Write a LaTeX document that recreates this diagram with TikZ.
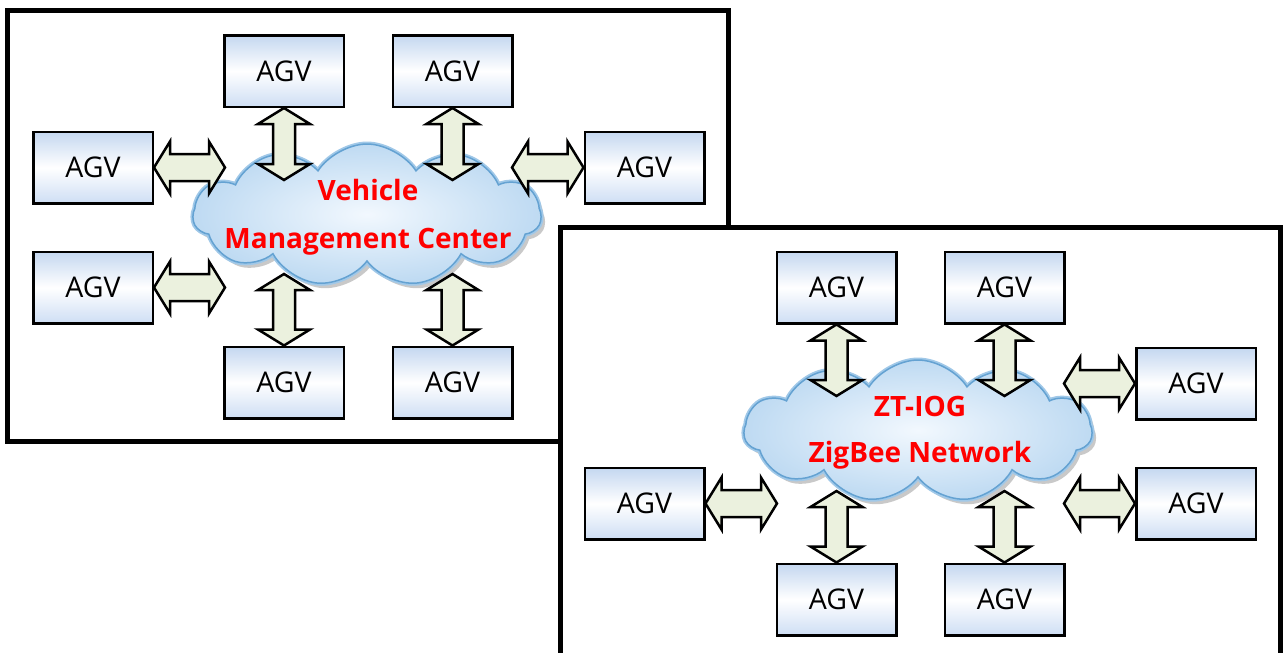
\documentclass[tikz,border=0pt]{standalone}
\usepackage{fontspec}
\setmainfont{Open Sans}
\usetikzlibrary{shapes.symbols,shadows,calc}
\definecolor{arrowgreen}{RGB}{235,241,222}
\definecolor{agvtop}{RGB}{196,215,240}
\definecolor{agvbot}{RGB}{206,222,244}
\definecolor{cloudin}{RGB}{242,248,254}
\definecolor{cloudout}{RGB}{190,218,242}
\definecolor{cloudedge}{RGB}{100,162,210}
\definecolor{cloudglow}{RGB}{160,200,232}
\newcommand\ahl{16pt}
\newcommand\ahw{26pt}
\newcommand\shafthw{11pt}
\tikzset{
  frame/.style={draw=black, line width=5pt, fill=white},
  agv/.style={rectangle, draw=black, line width=2.5pt, minimum width=119.5pt, minimum height=71.5pt,
    top color=agvtop, bottom color=agvbot, middle color=white, inner sep=0pt,
    font=\fontsize{28.5}{32}\selectfont},
  cloudshape/.style={cloud, cloud puffs=11, cloud puff arc=115, aspect=2.4, inner sep=0pt,
    minimum width=348pt, minimum height=142pt, draw=cloudedge, line width=1.5pt,
    inner color=cloudin, outer color=cloudout,
    drop shadow={shadow xshift=4pt, shadow yshift=-5pt, opacity=0.35, fill=black!60},
    preaction={draw=cloudglow, line width=5pt}},
  cloudtext/.style={text=red, font=\bfseries\fontsize{28}{48}\selectfont, align=center, inner sep=0pt},
  blockarrow/.style={draw=black, line width=2.5pt, fill=arrowgreen, line join=miter,
    to path={
      -- ($(\tikztostart)!\ahl!(\tikztotarget)!\ahw!90:(\tikztotarget)$)
      -- ($(\tikztostart)!\ahl!(\tikztotarget)!\shafthw!90:(\tikztotarget)$)
      -- ($(\tikztotarget)!\ahl!(\tikztostart)!\shafthw!-90:(\tikztostart)$)
      -- ($(\tikztotarget)!\ahl!(\tikztostart)!\ahw!-90:(\tikztostart)$)
      -- (\tikztotarget)
      -- ($(\tikztotarget)!\ahl!(\tikztostart)!\ahw!90:(\tikztostart)$)
      -- ($(\tikztotarget)!\ahl!(\tikztostart)!\shafthw!90:(\tikztostart)$)
      -- ($(\tikztostart)!\ahl!(\tikztotarget)!\shafthw!-90:(\tikztotarget)$)
      -- ($(\tikztostart)!\ahl!(\tikztotarget)!\ahw!-90:(\tikztotarget)$)
      -- cycle}},
  varrow/.style={blockarrow, /utils/exec={\renewcommand\shafthw{11pt}}},
  harrow/.style={blockarrow, /utils/exec={\renewcommand\shafthw{13.5pt}}}
}
\begin{document}
\begin{tikzpicture}[x=1pt,y=-1pt]
\useasboundingbox (0,0) rectangle (1288,653);
\clip (0,0) rectangle (1288,653);
% ---------- panel 1 ----------
\draw[frame] (7.5,10.5) rectangle (728,441);
\node[agv] (p1t1) at (284,71) {AGV};
\node[agv] (p1t2) at (452.5,71) {AGV};
\node[agv] (p1l1) at (93,167.5) {AGV};
\node[agv] (p1l2) at (93,287.5) {AGV};
\node[agv] (p1r1) at (644.5,167.5) {AGV};
\node[agv] (p1b1) at (284,382.5) {AGV};
\node[agv] (p1b2) at (452.5,382.5) {AGV};
\node[cloudshape] (cloud1) at (367,215) {};
\node[cloudtext] (label1) at (368,217) {Vehicle\\Management Center};
\coordinate (e1t1) at (284,180);
\coordinate (e1t2) at (452.5,180);
\coordinate (e1l1) at (225,167.5);
\coordinate (e1l2) at (225,287.5);
\coordinate (e1r1) at (512,167.5);
\coordinate (e1b1) at (284,274);
\coordinate (e1b2) at (452.5,274);
\draw[varrow] (p1t1.south) to (e1t1);
\draw[varrow] (p1t2.south) to (e1t2);
\draw[harrow] (p1l1.east) to (e1l1);
\draw[harrow] (p1l2.east) to (e1l2);
\draw[harrow] (p1r1.west) to (e1r1);
\draw[varrow] (p1b1.north) to (e1b1);
\draw[varrow] (p1b2.north) to (e1b2);
% ---------- panel 2 ----------
\fill[white] (560.5,227.5) rectangle (1280,670);
\draw[line width=5pt] (560.5,670) -- (560.5,227.5) -- (1280,227.5) -- (1280,670);
\node[agv] (p2t1) at (836.5,287.5) {AGV};
\node[agv] (p2t2) at (1004.5,287.5) {AGV};
\node[agv] (p2r1) at (1196,383.5) {AGV};
\node[agv] (p2r2) at (1196,503.5) {AGV};
\node[agv] (p2l1) at (644.5,503.5) {AGV};
\node[agv] (p2b1) at (836.5,599.5) {AGV};
\node[agv] (p2b2) at (1004.5,599.5) {AGV};
\node[cloudshape] (cloud2) at (918,431) {};
\node[cloudtext, font=\bfseries\fontsize{28}{46}\selectfont] (label2) at (920,433) {ZT-IOG\\ZigBee Network};
\coordinate (e2t1) at (836.5,396);
\coordinate (e2t2) at (1004.5,396);
\coordinate (e2r1) at (1064,383.5);
\coordinate (e2r2) at (1064,503.5);
\coordinate (e2l1) at (777,503.5);
\coordinate (e2b1) at (836.5,491);
\coordinate (e2b2) at (1004.5,491);
\draw[varrow] (p2t1.south) to (e2t1);
\draw[varrow] (p2t2.south) to (e2t2);
\draw[harrow] (p2r1.west) to (e2r1);
\draw[harrow] (p2r2.west) to (e2r2);
\draw[harrow] (p2l1.east) to (e2l1);
\draw[varrow] (p2b1.north) to (e2b1);
\draw[varrow] (p2b2.north) to (e2b2);
\end{tikzpicture}
\end{document}
